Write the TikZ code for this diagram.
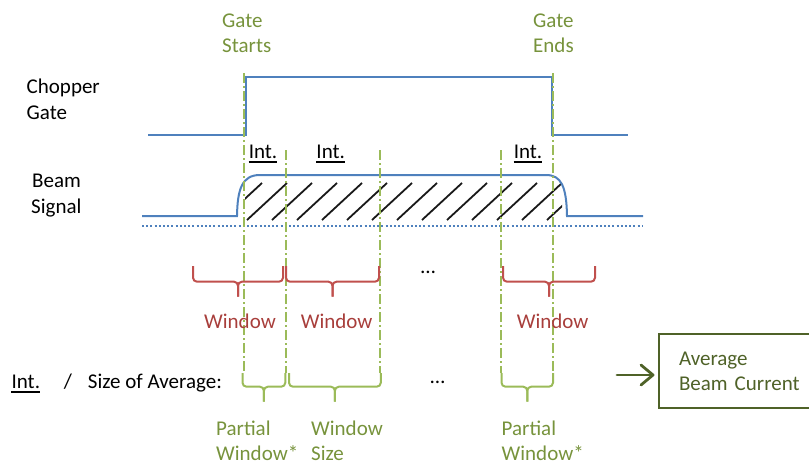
\documentclass[tikz,border=0pt]{standalone}
\usepackage{fontspec}
\setmainfont{Carlito}
\definecolor{sigblue}{HTML}{4F81BD}
\definecolor{vgreen}{HTML}{9BBB59}
\definecolor{tgreen}{HTML}{77933C}
\definecolor{dgreen}{HTML}{4F6228}
\definecolor{bred}{HTML}{C0504D}
\definecolor{tred}{HTML}{A83E3B}
\begin{document}
\begin{tikzpicture}[x=1pt,y=-1pt,
  every node/.style={font=\fontsize{21}{25.5}\selectfont, inner sep=0pt},
  sig/.style={draw=sigblue, line width=2pt},
  vline/.style={draw=vgreen, line width=1.8pt, dash pattern=on 10pt off 3pt on 2pt off 3pt},
  hatch/.style={draw=black!90, line width=1.8pt},
  rbrace/.style={draw=bred, line width=2pt, rounded corners=4pt},
  gbrace/.style={draw=vgreen, line width=2pt, rounded corners=4pt},
  lab/.style={anchor=base west, text=black},
  glab/.style={anchor=base west, text=tgreen},
  rlab/.style={anchor=base, text=tred},
  intl/.style={anchor=base, text=black},
  uline/.style={line width=1.6pt},
  arr/.style={draw=dgreen, line width=2.8pt, line cap=round, line join=round}]
\useasboundingbox (0,0) rectangle (809,466);

% left labels
\node[lab] (ch1) at (26.5,93) {Chopper};
\node[lab] (ch2) at (26.5,119.5) {Gate};
\node[lab] (bs1) at (32,187) {Beam};
\node[lab] (bs2) at (31,213) {Signal};

% top labels
\node[glab] (gs1) at (222,27) {Gate};
\node[glab] (gs2) at (222,52.5) {Starts};
\node[glab] (ge1) at (533,27) {Gate};
\node[glab] (ge2) at (533,52.5) {Ends};

% chopper gate signal
\draw[sig] (148,135) -- (245.5,135) -- (245.5,77) -- (552,77) -- (552,135) -- (628,135);

% beam signal hatch
\begin{scope}
  \clip (245,150) rectangle (562,230);
  \foreach \k in {0,...,13} \draw[hatch] ({222+25*\k},220) -- ++(40,-37);
\end{scope}

% beam signal
\draw[sig] (142,216) -- (237,216) .. controls (237.5,189) and (242,175) .. (260,175)
  -- (546,175) .. controls (561,175) and (566.5,186) .. (567,216) -- (643,216);
\draw[draw=sigblue, line width=2pt, dash pattern=on 2pt off 2.2pt] (142,226) -- (643,226);

% vertical dash-dot lines
\draw[vline] (244,73) -- (244,373);
\draw[vline] (286,150) -- (286,373);
\draw[vline] (380,150) -- (380,373);
\draw[vline] (501,150) -- (501,373);
\draw[vline] (553,73) -- (553,373);

% Int. labels
\node[intl] (i1) at (263,158.5) {Int.};
\node[intl] (i2) at (330.7,158.5) {Int.};
\node[intl] (i3) at (528,158.5) {Int.};
\foreach \n in {i1,i2,i3}
  \draw[uline] ([yshift=-3.5pt]\n.base west) -- ([yshift=-3.5pt]\n.base east);

% red braces
\foreach \a/\b in {193/283, 286/379, 503/595} {
  \draw[rbrace] (\a,266) -- (\a,281.7) -- ({(\a+\b)/2},281.7) -- ({(\a+\b)/2},296.7);
  \draw[rbrace] (\b,266) -- (\b,281.7) -- ({(\a+\b)/2},281.7) -- ({(\a+\b)/2},296.7);
}
\node[anchor=base, text=black] (dots1) at (428,273) {…};
\node[rlab] (w1) at (240,328) {Window};
\node[rlab] (w2) at (336.7,328) {Window};
\node[rlab] (w3) at (552.7,328) {Window};

% green braces
\foreach \a/\b in {242.5/285.3, 289/380.8, 501.5/553} {
  \draw[gbrace] (\a,373) -- (\a,386.7) -- ({(\a+\b)/2},386.7) -- ({(\a+\b)/2},401.7);
  \draw[gbrace] (\b,373) -- (\b,386.7) -- ({(\a+\b)/2},386.7) -- ({(\a+\b)/2},401.7);
}
\node[anchor=base, text=black] (dots2) at (437.6,383) {…};

% bottom left formula
\node[lab] (i4) at (11.4,388.5) {Int.};
\draw[uline] ([yshift=-3.5pt]i4.base west) -- ([yshift=-3.5pt]i4.base east);
\node[anchor=base, text=black] (sl) at (68,388.5) {/};
\node[lab] (sz) at (87.7,388.5) {Size of Average:};

% bottom green labels
\node[glab] (p1a) at (216,435) {Partial};
\node[glab] (p1b) at (216,460) {Window*};
\node[glab] (ws1) at (311,435) {Window};
\node[glab] (ws2) at (311,460) {Size};
\node[glab] (p2a) at (501.5,435) {Partial};
\node[glab] (p2b) at (501.5,460) {Window*};

% result box and arrow
\node[draw=dgreen, line width=2pt, anchor=north west, minimum width=160pt, minimum height=73.7pt,
      text width=130pt, align=left, inner xsep=20pt, text=dgreen,
      font=\fontsize{21}{25}\selectfont] (avg) at (658,333) {Average\\Beam Current};
\coordinate (astart) at (617,375);
\coordinate (atip) at ([xshift=-5pt]astart -| avg.west);
\draw[arr] (astart) -- (atip);
\draw[arr] ([shift={(-12,-10)}]atip) -- (atip) -- ([shift={(-12,10)}]atip);
\end{tikzpicture}
\end{document}
